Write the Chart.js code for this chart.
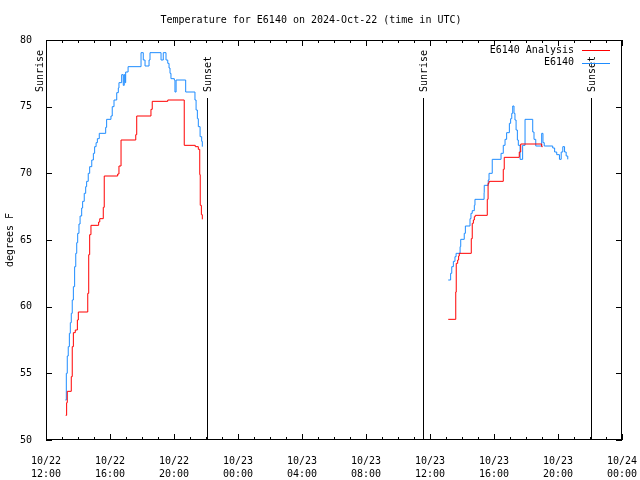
<!DOCTYPE html>
<html>
<head>
<meta charset="utf-8">
<script src="https://cdn.jsdelivr.net/npm/chart.js@4.4.1/dist/chart.umd.min.js"></script>
<style>
  html, body { margin: 0; padding: 0; background: #fff; }
  #wrap { width: 640px; height: 480px; }
</style>
</head>
<body>
<div id="wrap"><canvas id="tempChart" width="640" height="480"></canvas></div>
<script>
// hours since 2024-10-22 00:00 UTC; null marks the overnight gap
const analysisHours = [13.23, 13.29, 13.33, 13.58, 13.64, 13.71, 13.83, 13.96, 14.02, 14.61, 14.67, 14.73, 14.81,
    15.29, 15.36, 15.58, 15.64, 16.48, 16.56, 16.69, 17.61, 17.67, 18.56, 18.64, 19.61, 20.64, 21.33, 21.52,
    21.61, 21.64, 21.71, 21.77,
    30,
    37.14, 37.61, 37.64, 37.73, 37.79, 37.83, 38.58, 38.64, 38.71, 38.77, 38.83, 39.58, 39.63, 39.69,
    40.58, 40.64, 41.58, 41.67, 42.98, 43.04];
const analysisTemps = [51.85, 52.8, 53.65, 54.75, 57.0, 58.05, 58.25, 59.0, 59.6, 61.0, 63.9, 65.4, 66.1,
    66.35, 66.6, 67.45, 69.8, 69.95, 70.55, 72.5, 72.9, 74.3, 74.8, 75.4, 75.5, 72.1, 72.0, 71.8,
    69.9, 67.6, 66.9, 66.55,
    null,
    59.05, 61.1, 63.25, 63.5, 63.8, 64.0, 65.1, 66.25, 66.5, 66.75, 66.85, 68.05, 69.25, 69.4,
    70.3, 71.2, 71.6, 72.2, 72.0, 72.0];

const obsHours = [13.21, 13.27, 13.33, 13.39, 13.46, 13.52, 13.58, 13.64, 13.71, 13.79, 13.86, 13.92, 13.98,
    14.06, 14.13, 14.23, 14.29, 14.39, 14.48, 14.54, 14.64, 14.73, 14.86, 14.96, 15.04, 15.13, 15.21, 15.33,
    15.73, 15.79, 16.06, 16.14, 16.25, 16.42, 16.52, 16.56, 16.73, 16.83, 16.89, 16.94, 16.98, 17.13,
    17.94, 18.08, 18.19, 18.44, 18.5, 19.19, 19.33, 19.5, 19.61, 19.69, 19.75, 19.81, 20.02, 20.06, 20.13,
    20.73, 21.31, 21.38, 21.46, 21.52, 21.63, 21.73, 21.77,
    30,
    37.14, 37.29, 37.36, 37.46, 37.56, 37.63, 37.88, 37.92, 38.14, 38.21, 38.5, 38.56, 38.64, 38.77, 38.81,
    39.38, 39.39, 39.64, 39.69, 39.89, 40.44, 40.58, 40.69, 40.79, 40.96, 41.04, 41.11, 41.17, 41.25, 41.31,
    41.38, 41.46, 41.52, 41.63, 41.79, 41.94, 42.42, 42.5, 42.61, 42.98, 43.06, 43.14, 43.67, 43.79, 43.92,
    44.09, 44.2, 44.3, 44.41, 44.51, 44.61];
const obsTemps = [53.0, 55.0, 56.3, 57.0, 58.0, 58.8, 59.5, 60.5, 61.5, 63.0, 64.0, 64.8, 65.5,
    66.2, 66.8, 67.4, 67.9, 68.5, 69.0, 69.4, 70.0, 70.5, 71.0, 71.5, 72.0, 72.3, 72.6, 73.0,
    73.45, 74.05, 74.3, 75.0, 75.5, 76.05, 76.4, 76.8, 77.4, 76.6, 77.4, 76.8, 77.6, 78.0,
    79.05, 78.5, 78.05, 78.5, 79.05, 78.5, 79.05, 78.5, 78.25, 77.9, 77.5, 77.1, 77.0, 76.1, 77.0,
    76.1, 75.5, 74.75, 74.1, 73.5, 72.75, 72.4, 72.0,
    null,
    62.0, 62.5, 63.0, 63.4, 63.75, 64.0, 64.5, 65.05, 65.5, 66.05, 66.6, 67.0, 67.2, 67.6, 68.05,
    68.55, 69.1, 69.5, 70.0, 71.05, 71.5, 72.1, 72.55, 73.05, 73.75, 74.1, 74.5, 75.05, 74.5, 74.0,
    73.25, 72.5, 72.1, 71.05, 72.1, 74.05, 73.1, 72.55, 72.05, 73.0, 72.3, 72.05, 71.9, 71.6, 71.4,
    71.05, 71.6, 72.0, 71.6, 71.3, 71.05];

const xTickHours = [12, 16, 20, 24, 28, 32, 36, 40, 44, 48];
const xTickLabels = [['10/22', '12:00'], ['10/22', '16:00'], ['10/22', '20:00'], ['10/23', '00:00'],
    ['10/23', '04:00'], ['10/23', '08:00'], ['10/23', '12:00'], ['10/23', '16:00'], ['10/23', '20:00'],
    ['10/24', '00:00']];
const yTicks = [50, 55, 60, 65, 70, 75, 80];

const sunLabels = ['Sunrise', 'Sunset', 'Sunrise', 'Sunset'];
const sunHours = [11.52, 22.04, 35.54, 46.04];

const FONT = '"DejaVu Sans Mono", "Liberation Mono", monospace';

function toPoints(xs, ys) {
    return xs.map((x, i) => ({ x: x, y: ys[i] }));
}

// frame, inward ticks on all sides, sunrise/sunset markers and legend
const gnuplotDecor = {
    id: 'gnuplotDecor',
    afterDraw(chart) {
        const ctx = chart.ctx;
        const a = chart.chartArea;
        const xs = chart.scales.x;
        const ys = chart.scales.y;
        ctx.save();
        ctx.strokeStyle = '#000';
        ctx.lineWidth = 1;

        ctx.strokeRect(a.left + 0.5, a.top + 0.5, a.right - a.left - 1, a.bottom - a.top - 1);

        ctx.beginPath();
        for (let h = 12; h <= 48; h++) {
            const px = Math.round(xs.getPixelForValue(h)) + 0.5;
            const len = xTickHours.includes(h) ? 6 : 3;
            ctx.moveTo(px, a.bottom); ctx.lineTo(px, a.bottom - len);
            ctx.moveTo(px, a.top); ctx.lineTo(px, a.top + len);
        }
        yTicks.forEach(v => {
            const py = Math.round(ys.getPixelForValue(v)) + 0.5;
            ctx.moveTo(a.left, py); ctx.lineTo(a.left + 6, py);
            ctx.moveTo(a.right, py); ctx.lineTo(a.right - 6, py);
        });
        ctx.stroke();

        // sunrise / sunset
        ctx.font = '10px ' + FONT;
        ctx.fillStyle = '#000';
        sunHours.forEach((h, i) => {
            const px = xs.getPixelForValue(h);
            if (px >= a.left && px <= a.right) {
                const lx = Math.round(px) + 0.5;
                ctx.beginPath();
                ctx.moveTo(lx, 98);
                ctx.lineTo(lx, a.bottom);
                ctx.stroke();
            }
            ctx.save();
            ctx.translate(px + 2, 92);
            ctx.rotate(-Math.PI / 2);
            ctx.textAlign = 'left';
            ctx.textBaseline = 'middle';
            ctx.fillText(sunLabels[i], 0, 0);
            ctx.restore();
        });

        // legend, text right aligned with the line sample to the right
        chart.data.datasets.forEach((ds, i) => {
            const y = 50 + i * 12.5;
            ctx.textAlign = 'right';
            ctx.textBaseline = 'middle';
            ctx.fillStyle = '#000';
            ctx.fillText(ds.label, 574, y);
            ctx.strokeStyle = ds.borderColor;
            ctx.beginPath();
            ctx.moveTo(582, Math.round(y) + 0.5);
            ctx.lineTo(610, Math.round(y) + 0.5);
            ctx.stroke();
        });
        ctx.restore();
    }
};

const ctxTemp = document.getElementById('tempChart').getContext('2d');
new Chart(ctxTemp, {
    type: 'line',
    data: {
        datasets: [{
            label: 'E6140 Analysis',
            data: toPoints(analysisHours, analysisTemps),
            borderColor: '#ff0000',
            borderWidth: 1,
            pointRadius: 0,
            stepped: true,
            spanGaps: false
        }, {
            label: 'E6140',
            data: toPoints(obsHours, obsTemps),
            borderColor: '#1e8cff',
            borderWidth: 1,
            pointRadius: 0,
            stepped: true,
            spanGaps: false
        }]
    },
    options: {
        responsive: false,
        animation: false,
        layout: { padding: { left: 0, right: 18, top: 0, bottom: 0 } },
        plugins: {
            legend: { display: false },
            tooltip: { enabled: false },
            title: {
                display: true,
                text: 'Temperature for E6140 on 2024-Oct-22 (time in UTC)',
                color: '#000',
                font: { family: FONT, size: 10, weight: 'normal' },
                padding: { top: 14, bottom: 14 }
            }
        },
        scales: {
            x: {
                type: 'linear',
                min: 12,
                max: 48,
                grid: { display: false },
                border: { display: false },
                afterBuildTicks: scale => { scale.ticks = xTickHours.map(v => ({ value: v })); },
                afterFit: scale => {
                    scale.height = 40;
                    scale.paddingLeft = 0;
                    scale.paddingRight = 0;
                },
                ticks: {
                    color: '#000',
                    maxRotation: 0,
                    autoSkip: false,
                    padding: 7,
                    font: { family: FONT, size: 10, lineHeight: 1.3 },
                    callback: value => xTickLabels[xTickHours.indexOf(value)]
                }
            },
            y: {
                min: 50,
                max: 80,
                grid: { display: false },
                border: { display: false },
                afterBuildTicks: scale => { scale.ticks = yTicks.map(v => ({ value: v })); },
                afterFit: scale => { scale.width = 46; },
                title: {
                    display: true,
                    text: 'degrees F',
                    color: '#000',
                    font: { family: FONT, size: 10 },
                    padding: { top: 4, bottom: 0 }
                },
                ticks: {
                    color: '#000',
                    padding: 6,
                    font: { family: FONT, size: 10 }
                }
            }
        }
    },
    plugins: [gnuplotDecor]
});
</script>
</body>
</html>
